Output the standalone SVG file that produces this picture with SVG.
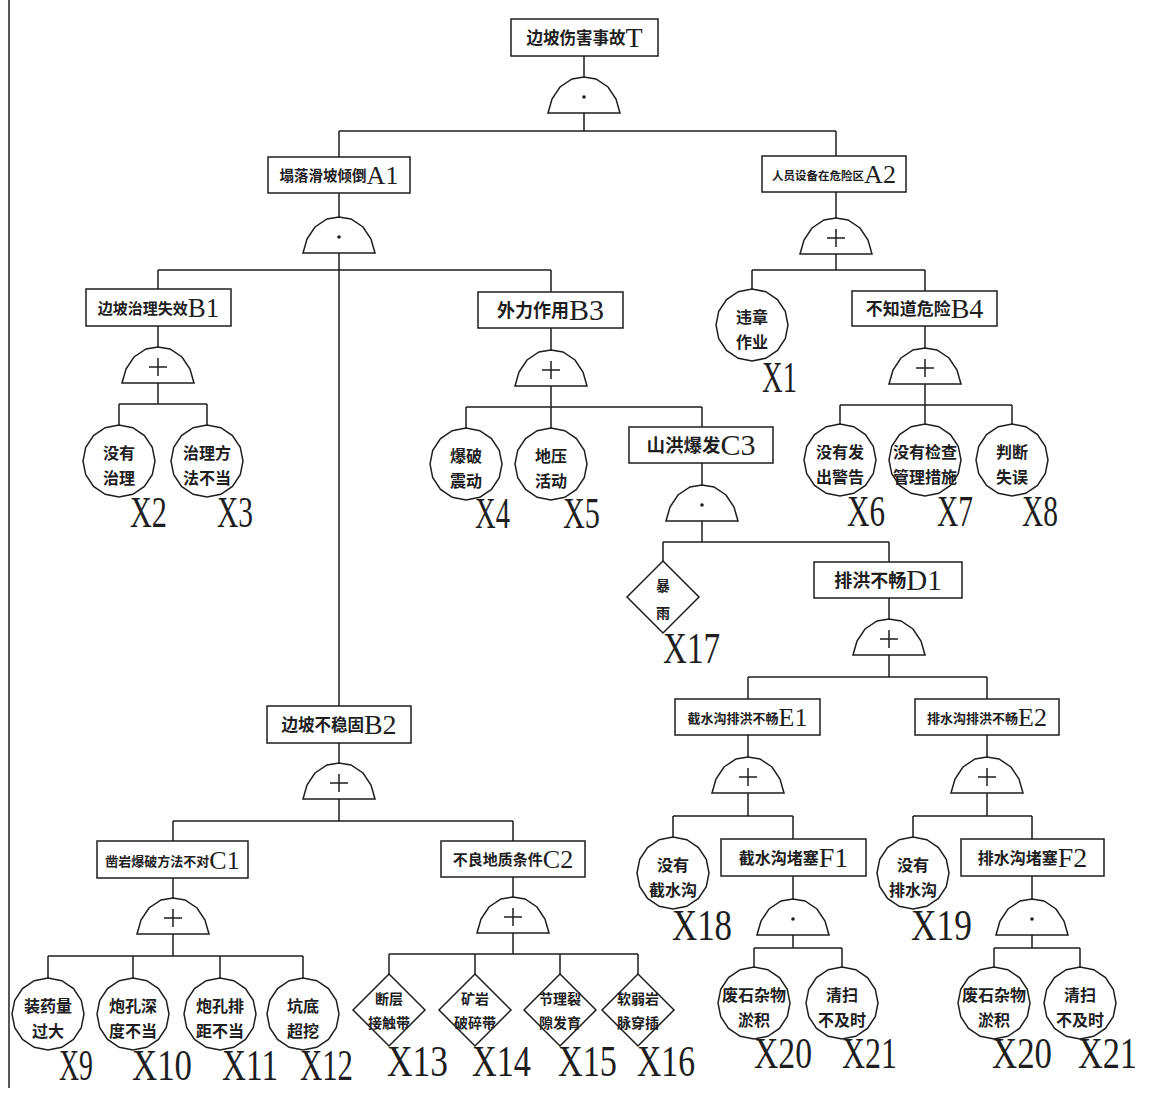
<svg xmlns="http://www.w3.org/2000/svg" xmlns:xlink="http://www.w3.org/1999/xlink" width="1161" height="1097" viewBox="0 0 1161 1097">
<style>
.ln{fill:none;stroke:#1e1e1e;stroke-width:1.5}
.sh{fill:#fff;stroke:#1e1e1e;stroke-width:1.5}
.cn{font-family:"Noto Sans CJK SC","Noto Sans",sans-serif;font-weight:bold;fill:#1e1e1e}
.lt{font-family:"Liberation Serif",serif;fill:#1e1e1e}
.lbl{font-family:"Liberation Serif",serif;font-size:44px;fill:#1e1e1e}
.ct{font-family:"Noto Sans CJK SC","Noto Sans",sans-serif;font-weight:bold;font-size:16px;fill:#1e1e1e;text-anchor:middle}
.dt{font-family:"Noto Sans CJK SC","Noto Sans",sans-serif;font-weight:bold;font-size:14px;fill:#1e1e1e;text-anchor:middle}
</style>
<defs>
<path id="dome" d="M-36,0 L-32,-14 L-24,-26 L-12,-34 L0,-36 L12,-34 L24,-26 L32,-14 L36,0 Z"/>
<g id="orGate"><use href="#dome" class="sh"/><path class="ln" d="M-9,-16H9M0,-25V-7"/></g>
<g id="andGate"><use href="#dome" class="sh"/><circle cx="0" cy="-16" r="1.8" fill="#1e1e1e"/></g>
<polygon id="ev" class="sh" points="36,0 33.26,13.78 25.46,25.46 13.78,33.26 0,36 -13.78,33.26 -25.46,25.46 -33.26,13.78 -36,0 -33.26,-13.78 -25.46,-25.46 -13.78,-33.26 0,-36 13.78,-33.26 25.46,-25.46 33.26,-13.78"/>
<polygon id="dia" class="sh" points="0,-36 36,0 0,36 -36,0"/>
</defs>
<rect width="1161" height="1097" fill="#fff"/>
<line x1="9" y1="0" x2="9" y2="1088" class="ln"/>

<g id="connectors" class="ln">
<path d="M584 56V77M584 113V131M339 131H836M339 131V157M836 131V156"/>
<path d="M339 193V217M339 253V706M158 270H551M158 270V289M551 270V292"/>
<path d="M158 326V347M158 383V404M119 404H207M119 404V425M207 404V425"/>
<path d="M551 328V350M551 386V407M466 407H702M466 407V428M551 407V428M702 407V427"/>
<path d="M702 463V485M702 521V542M663 542H889M663 542V561M889 542V562"/>
<path d="M889 598V619M889 655V677M748 677H987M748 677V699M987 677V699"/>
<path d="M748 735V757M748 793V816M673 816H793M673 816V837M793 816V839"/>
<path d="M793 876V899M793 935V948M754 948H842M754 948V967M842 948V967"/>
<path d="M987 735V757M987 793V816M913 816H1032M913 816V837M1032 816V839"/>
<path d="M1032 876V899M1032 935V948M994 948H1080M994 948V967M1080 948V967"/>
<path d="M836 192V218M836 254V270M752 270H925M752 270V289M925 270V291"/>
<path d="M925 326V348M925 384V405M840 405H1012M840 405V424M925 405V424M1012 405V424"/>
<path d="M339 743V763M339 799V821M173 821H513M173 821V841M513 821V841"/>
<path d="M173 878V898M173 934V956M48 956H303M48 956V978M133 956V978M220 956V978M303 956V978"/>
<path d="M513 877V897M513 933V954M389 954H638M389 954V974M475 954V974M560 954V974M638 954V974"/>
</g>

<g id="gates">
<use href="#andGate" x="584" y="113"/>
<use href="#andGate" x="339" y="253"/>
<use href="#orGate" x="836" y="254"/>
<use href="#orGate" x="158" y="383"/>
<use href="#orGate" x="551" y="386"/>
<use href="#orGate" x="925" y="384"/>
<use href="#andGate" x="702" y="521"/>
<use href="#orGate" x="889" y="655"/>
<use href="#orGate" x="748" y="793"/>
<use href="#orGate" x="987" y="793"/>
<use href="#andGate" x="793" y="935"/>
<use href="#andGate" x="1032" y="935"/>
<use href="#orGate" x="339" y="799"/>
<use href="#orGate" x="173" y="934"/>
<use href="#orGate" x="513" y="933"/>
</g>

<g id="T"><rect class="sh" x="511" y="19" width="147" height="37"/><text x="584.5" y="47" text-anchor="middle"><tspan class="cn" font-size="16.5" dy="-3">边坡伤害事故</tspan><tspan class="lt" font-size="28" dy="3">T</tspan></text></g>
<g id="A1"><rect class="sh" x="268" y="157" width="142" height="36"/><text x="339" y="184" text-anchor="middle"><tspan class="cn" font-size="14.5" dy="-3">塌落滑坡倾倒</tspan><tspan class="lt" font-size="26" dy="3">A1</tspan></text></g>
<g id="A2"><rect class="sh" x="762" y="156" width="144" height="36"/><text x="834" y="183" text-anchor="middle"><tspan class="cn" font-size="11.5" dy="-3">人员设备在危险区</tspan><tspan class="lt" font-size="26" dy="3">A2</tspan></text></g>
<g id="B1"><rect class="sh" x="86" y="289" width="145" height="37"/><text x="158.5" y="317" text-anchor="middle"><tspan class="cn" font-size="15" dy="-3">边坡治理失效</tspan><tspan class="lt" font-size="27" dy="3">B1</tspan></text></g>
<g id="B3"><rect class="sh" x="478" y="292" width="145" height="36"/><text x="550.5" y="320" text-anchor="middle"><tspan class="cn" font-size="18" dy="-3">外力作用</tspan><tspan class="lt" font-size="30" dy="3">B3</tspan></text></g>
<g id="B4"><rect class="sh" x="852" y="291" width="145" height="35"/><text x="924.5" y="318" text-anchor="middle"><tspan class="cn" font-size="17" dy="-3">不知道危险</tspan><tspan class="lt" font-size="28" dy="3">B4</tspan></text></g>
<g id="B2"><rect class="sh" x="267" y="706" width="144" height="37"/><text x="339" y="734" text-anchor="middle"><tspan class="cn" font-size="16.5" dy="-3">边坡不稳固</tspan><tspan class="lt" font-size="28" dy="3">B2</tspan></text></g>
<g id="C1"><rect class="sh" x="97" y="841" width="151" height="37"/><text x="172.5" y="869" text-anchor="middle"><tspan class="cn" font-size="13" dy="-3">凿岩爆破方法不对</tspan><tspan class="lt" font-size="26" dy="3">C1</tspan></text></g>
<g id="C2"><rect class="sh" x="441" y="841" width="144" height="36"/><text x="513" y="868" text-anchor="middle"><tspan class="cn" font-size="15" dy="-3">不良地质条件</tspan><tspan class="lt" font-size="26" dy="3">C2</tspan></text></g>
<g id="C3"><rect class="sh" x="629" y="427" width="144" height="36"/><text x="701" y="455" text-anchor="middle"><tspan class="cn" font-size="18.5" dy="-3">山洪爆发</tspan><tspan class="lt" font-size="30" dy="3">C3</tspan></text></g>
<g id="D1"><rect class="sh" x="814" y="562" width="148" height="36"/><text x="888" y="590" text-anchor="middle"><tspan class="cn" font-size="18" dy="-3">排洪不畅</tspan><tspan class="lt" font-size="29" dy="3">D1</tspan></text></g>
<g id="E1"><rect class="sh" x="675" y="699" width="145" height="36"/><text x="747.5" y="726" text-anchor="middle"><tspan class="cn" font-size="13" dy="-3">截水沟排洪不畅</tspan><tspan class="lt" font-size="26" dy="3">E1</tspan></text></g>
<g id="E2"><rect class="sh" x="915" y="699" width="144" height="36"/><text x="987" y="726" text-anchor="middle"><tspan class="cn" font-size="13" dy="-3">排水沟排洪不畅</tspan><tspan class="lt" font-size="26" dy="3">E2</tspan></text></g>
<g id="F1"><rect class="sh" x="721" y="839" width="145" height="37"/><text x="793.5" y="867" text-anchor="middle"><tspan class="cn" font-size="16" dy="-3">截水沟堵塞</tspan><tspan class="lt" font-size="28" dy="3">F1</tspan></text></g>
<g id="F2"><rect class="sh" x="961" y="839" width="143" height="37"/><text x="1032.5" y="867" text-anchor="middle"><tspan class="cn" font-size="16" dy="-3">排水沟堵塞</tspan><tspan class="lt" font-size="28" dy="3">F2</tspan></text></g>

<g id="X1"><use href="#ev" x="752" y="325"/><text class="ct" x="752" y="323">违章</text><text class="ct" x="752" y="348">作业</text><text class="lbl" x="762" y="392" textLength="35" lengthAdjust="spacingAndGlyphs">X1</text></g>
<g id="X2"><use href="#ev" x="119" y="461"/><text class="ct" x="119" y="459">没有</text><text class="ct" x="119" y="484">治理</text><text class="lbl" x="130" y="527" textLength="37" lengthAdjust="spacingAndGlyphs">X2</text></g>
<g id="X3"><use href="#ev" x="207" y="461"/><text class="ct" x="207" y="459">治理方</text><text class="ct" x="207" y="484">法不当</text><text class="lbl" x="217" y="527" textLength="36" lengthAdjust="spacingAndGlyphs">X3</text></g>
<g id="X4"><use href="#ev" x="466" y="464"/><text class="ct" x="466" y="462">爆破</text><text class="ct" x="466" y="487">震动</text><text class="lbl" x="475" y="528" textLength="35" lengthAdjust="spacingAndGlyphs">X4</text></g>
<g id="X5"><use href="#ev" x="551" y="464"/><text class="ct" x="551" y="462">地压</text><text class="ct" x="551" y="487">活动</text><text class="lbl" x="563" y="528" textLength="37" lengthAdjust="spacingAndGlyphs">X5</text></g>
<g id="X6"><use href="#ev" x="840" y="460"/><text class="ct" x="840" y="458">没有发</text><text class="ct" x="840" y="483">出警告</text><text class="lbl" x="847" y="526" textLength="38" lengthAdjust="spacingAndGlyphs">X6</text></g>
<g id="X7"><use href="#ev" x="925" y="460"/><text class="ct" x="925" y="458">没有检查</text><text class="ct" x="925" y="483">管理措施</text><text class="lbl" x="937" y="526" textLength="36" lengthAdjust="spacingAndGlyphs">X7</text></g>
<g id="X8"><use href="#ev" x="1012" y="460"/><text class="ct" x="1012" y="458">判断</text><text class="ct" x="1012" y="483">失误</text><text class="lbl" x="1022" y="526" textLength="36" lengthAdjust="spacingAndGlyphs">X8</text></g>
<g id="X17"><use href="#dia" x="663" y="597"/><text class="dt" x="663" y="591">暴</text><text class="dt" x="663" y="618">雨</text><text class="lbl" x="663" y="663" textLength="57" lengthAdjust="spacingAndGlyphs">X17</text></g>
<g id="X18"><use href="#ev" x="673" y="873"/><text class="ct" x="673" y="871">没有</text><text class="ct" x="673" y="896">截水沟</text><text class="lbl" x="672" y="940" textLength="60" lengthAdjust="spacingAndGlyphs">X18</text></g>
<g id="X19"><use href="#ev" x="913" y="873"/><text class="ct" x="913" y="871">没有</text><text class="ct" x="913" y="896">排水沟</text><text class="lbl" x="911" y="940" textLength="61" lengthAdjust="spacingAndGlyphs">X19</text></g>
<g id="X20a"><use href="#ev" x="754" y="1003"/><text class="ct" x="754" y="1001">废石杂物</text><text class="ct" x="754" y="1026">淤积</text><text class="lbl" x="754" y="1068" textLength="58" lengthAdjust="spacingAndGlyphs">X20</text></g>
<g id="X21a"><use href="#ev" x="842" y="1003"/><text class="ct" x="842" y="1001">清扫</text><text class="ct" x="842" y="1026">不及时</text><text class="lbl" x="842" y="1068" textLength="55" lengthAdjust="spacingAndGlyphs">X21</text></g>
<g id="X20b"><use href="#ev" x="994" y="1003"/><text class="ct" x="994" y="1001">废石杂物</text><text class="ct" x="994" y="1026">淤积</text><text class="lbl" x="992" y="1068" textLength="60" lengthAdjust="spacingAndGlyphs">X20</text></g>
<g id="X21b"><use href="#ev" x="1080" y="1003"/><text class="ct" x="1080" y="1001">清扫</text><text class="ct" x="1080" y="1026">不及时</text><text class="lbl" x="1078" y="1068" textLength="59" lengthAdjust="spacingAndGlyphs">X21</text></g>
<g id="X9"><use href="#ev" x="48" y="1014"/><text class="ct" x="48" y="1012">装药量</text><text class="ct" x="48" y="1037">过大</text><text class="lbl" x="59" y="1080" textLength="34" lengthAdjust="spacingAndGlyphs">X9</text></g>
<g id="X10"><use href="#ev" x="133" y="1014"/><text class="ct" x="133" y="1012">炮孔深</text><text class="ct" x="133" y="1037">度不当</text><text class="lbl" x="132" y="1080" textLength="60" lengthAdjust="spacingAndGlyphs">X10</text></g>
<g id="X11"><use href="#ev" x="220" y="1014"/><text class="ct" x="220" y="1012">炮孔排</text><text class="ct" x="220" y="1037">距不当</text><text class="lbl" x="222" y="1080" textLength="56" lengthAdjust="spacingAndGlyphs">X11</text></g>
<g id="X12"><use href="#ev" x="303" y="1014"/><text class="ct" x="303" y="1012">坑底</text><text class="ct" x="303" y="1037">超挖</text><text class="lbl" x="300" y="1080" textLength="53" lengthAdjust="spacingAndGlyphs">X12</text></g>
<g id="X13"><use href="#dia" x="389" y="1010"/><text class="dt" x="389" y="1004">断层</text><text class="dt" x="389" y="1028">接触带</text><text class="lbl" x="387" y="1076" textLength="61" lengthAdjust="spacingAndGlyphs">X13</text></g>
<g id="X14"><use href="#dia" x="475" y="1010"/><text class="dt" x="475" y="1004">矿岩</text><text class="dt" x="475" y="1028">破碎带</text><text class="lbl" x="472" y="1076" textLength="59" lengthAdjust="spacingAndGlyphs">X14</text></g>
<g id="X15"><use href="#dia" x="560" y="1010"/><text class="dt" x="560" y="1004">节理裂</text><text class="dt" x="560" y="1028">隙发育</text><text class="lbl" x="558" y="1076" textLength="59" lengthAdjust="spacingAndGlyphs">X15</text></g>
<g id="X16"><use href="#dia" x="638" y="1010"/><text class="dt" x="638" y="1004">软弱岩</text><text class="dt" x="638" y="1028">脉穿插</text><text class="lbl" x="637" y="1076" textLength="58" lengthAdjust="spacingAndGlyphs">X16</text></g>
</svg>
